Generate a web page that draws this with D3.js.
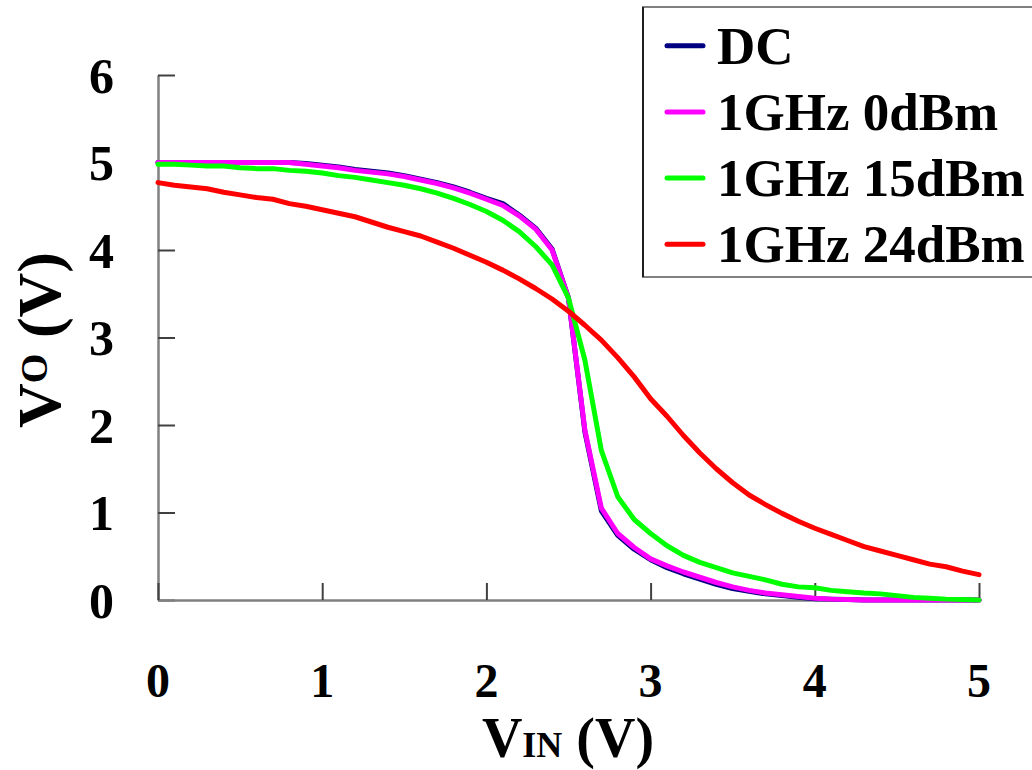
<!DOCTYPE html>
<html>
<head>
<meta charset="utf-8">
<script src="https://cdn.jsdelivr.net/npm/d3@7"></script>
<style>
  html, body { margin: 0; padding: 0; background: #fff; }
  svg { display: block; }
</style>
</head>
<body>
<svg id="chart" width="1032" height="770"></svg>
<script>
// Input voltage sweep (V)
const vin = [0,0.1,0.2,0.3,0.4,0.5,0.6,0.7,0.8,0.9,1.0,1.1,1.2,1.3,1.4,1.5,1.6,1.7,1.8,1.9,2.0,
             2.1,2.2,2.3,2.4,2.5,2.6,2.7,2.8,2.9,3.0,3.1,3.2,3.3,3.4,3.5,3.6,3.7,3.8,3.9,4.0,
             4.1,4.2,4.3,4.4,4.5,4.6,4.7,4.8,4.9,5.0];

// Output voltage (V) for each condition
const voDC = [5.00,5.00,5.00,5.00,5.00,5.00,5.00,5.00,5.00,4.99,4.97,4.95,4.92,4.90,4.88,4.85,4.81,4.77,4.72,4.66,4.59,
              4.53,4.40,4.25,4.01,3.45,1.92,1.02,0.74,0.58,0.46,0.37,0.30,0.24,0.18,0.13,0.10,0.07,0.05,0.03,0.015,
              0.01,0.005,0,0,0,0,0,0,0,0];
const vo0dBm = [5.00,5.00,5.00,5.00,5.00,5.00,5.00,5.00,5.00,4.98,4.96,4.94,4.91,4.89,4.87,4.84,4.80,4.76,4.71,4.65,4.58,
                4.51,4.39,4.24,4.00,3.45,1.94,1.05,0.76,0.60,0.47,0.39,0.32,0.26,0.20,0.15,0.11,0.08,0.06,0.04,0.02,
                0.01,0.005,0,0,0,0,0,0,0,0];
const vo15dBm = [4.98,4.98,4.97,4.96,4.96,4.94,4.93,4.93,4.91,4.90,4.88,4.85,4.83,4.80,4.77,4.74,4.70,4.65,4.59,4.52,4.44,
                 4.34,4.21,4.04,3.83,3.45,2.74,1.71,1.18,0.92,0.76,0.62,0.51,0.43,0.37,0.31,0.27,0.23,0.18,0.15,0.14,
                 0.11,0.095,0.08,0.07,0.05,0.03,0.02,0.01,0.005,0.0];
const vo24dBm = [4.77,4.74,4.72,4.70,4.66,4.63,4.60,4.58,4.53,4.50,4.46,4.42,4.38,4.32,4.26,4.21,4.16,4.09,4.02,3.94,3.86,
                 3.77,3.67,3.56,3.44,3.30,3.14,2.97,2.77,2.55,2.30,2.10,1.88,1.68,1.50,1.34,1.20,1.09,0.99,0.90,0.82,
                 0.75,0.68,0.61,0.56,0.51,0.46,0.41,0.38,0.33,0.29];

const seriesNames = ["DC", "1GHz 0dBm", "1GHz 15dBm", "1GHz 24dBm"];
const seriesValues = [voDC, vo0dBm, vo15dBm, vo24dBm];
const seriesColors = ["#000080", "#FF00FF", "#00FF00", "#FF0000"];

const xTicks = [0, 1, 2, 3, 4, 5];
const yTicks = [0, 1, 2, 3, 4, 5, 6];

const svg = d3.select("#chart");
const font = "'Liberation Serif', 'Times New Roman', serif";

const x = d3.scaleLinear().domain([0, 5]).range([158, 979]);
const y = d3.scaleLinear().domain([0, 6]).range([600, 75]);

// Axes: gray spine with short inward ticks
const axisColor = "#808080";
const tickLen = 17;

const yAxis = svg.append("g").attr("transform", `translate(${x(0)},0)`)
  .call(d3.axisRight(y).tickValues(yTicks).tickSize(tickLen).tickSizeOuter(0).tickFormat(""));
const xAxis = svg.append("g").attr("transform", `translate(0,${y(0)})`)
  .call(d3.axisTop(x).tickValues(xTicks).tickSize(tickLen).tickSizeOuter(0).tickFormat(""));
[xAxis, yAxis].forEach(g => {
  g.select(".domain").attr("stroke", axisColor).attr("stroke-width", 2.5);
  g.selectAll(".tick line").attr("stroke", "#404040").attr("stroke-width", 2);
});

// Tick labels
svg.append("g").selectAll("text").data(yTicks).join("text")
  .attr("x", 114).attr("y", d => y(d)).attr("dy", "0.35em")
  .attr("text-anchor", "end")
  .style("font-family", font).style("font-weight", "bold").style("font-size", "50px")
  .text(d => d);
svg.append("g").selectAll("text").data(xTicks).join("text")
  .attr("x", d => x(d)).attr("y", 697)
  .attr("text-anchor", "middle")
  .style("font-family", font).style("font-weight", "bold").style("font-size", "48px")
  .text(d => d);

// Axis titles
const xt = svg.append("text")
  .attr("x", 568).attr("y", 757).attr("text-anchor", "middle")
  .style("font-family", font).style("font-weight", "bold").style("font-size", "56px");
xt.append("tspan").text("V");
xt.append("tspan").style("font-size", "36px").text("IN");
xt.append("tspan").text(" (V)");

const yt = svg.append("text")
  .attr("transform", "translate(60,340) rotate(-90)").attr("text-anchor", "middle")
  .style("font-family", font).style("font-weight", "bold").style("font-size", "62px");
yt.append("tspan").text("V");
yt.append("tspan").attr("dy", -13).style("font-size", "38px").text("O");
yt.append("tspan").attr("dy", 13).text(" (V)");

// Curves
const line = d3.line().x((d, i) => x(vin[i])).y(d => y(d));
svg.append("g").selectAll("path").data(seriesValues).join("path")
  .attr("d", d => line(d))
  .attr("fill", "none")
  .attr("stroke", (d, i) => seriesColors[i])
  .attr("stroke-width", 5)
  .attr("stroke-linejoin", "round")
  .attr("stroke-linecap", "round");

// Legend
const lg = svg.append("g");
lg.append("rect").attr("x", 643).attr("y", 7).attr("width", 400).attr("height", 270)
  .attr("fill", "#fff").attr("stroke", axisColor).attr("stroke-width", 2);
lg.append("line").attr("x1", 643).attr("x2", 643).attr("y1", 7).attr("y2", 277)
  .attr("stroke", "#000").attr("stroke-width", 1.5);
const rows = lg.selectAll("g.row").data(seriesNames).join("g")
  .attr("class", "row")
  .attr("transform", (d, i) => `translate(0,${45.7 + i * 66.2})`);
rows.append("line").attr("x1", 667).attr("x2", 703).attr("y1", 0).attr("y2", 0)
  .attr("stroke", (d, i) => seriesColors[i]).attr("stroke-width", 5).attr("stroke-linecap", "round");
rows.append("text").attr("x", 717).attr("y", 18)
  .style("font-family", font).style("font-weight", "bold").style("font-size", "53px")
  .text(d => d);
</script>
</body>
</html>
